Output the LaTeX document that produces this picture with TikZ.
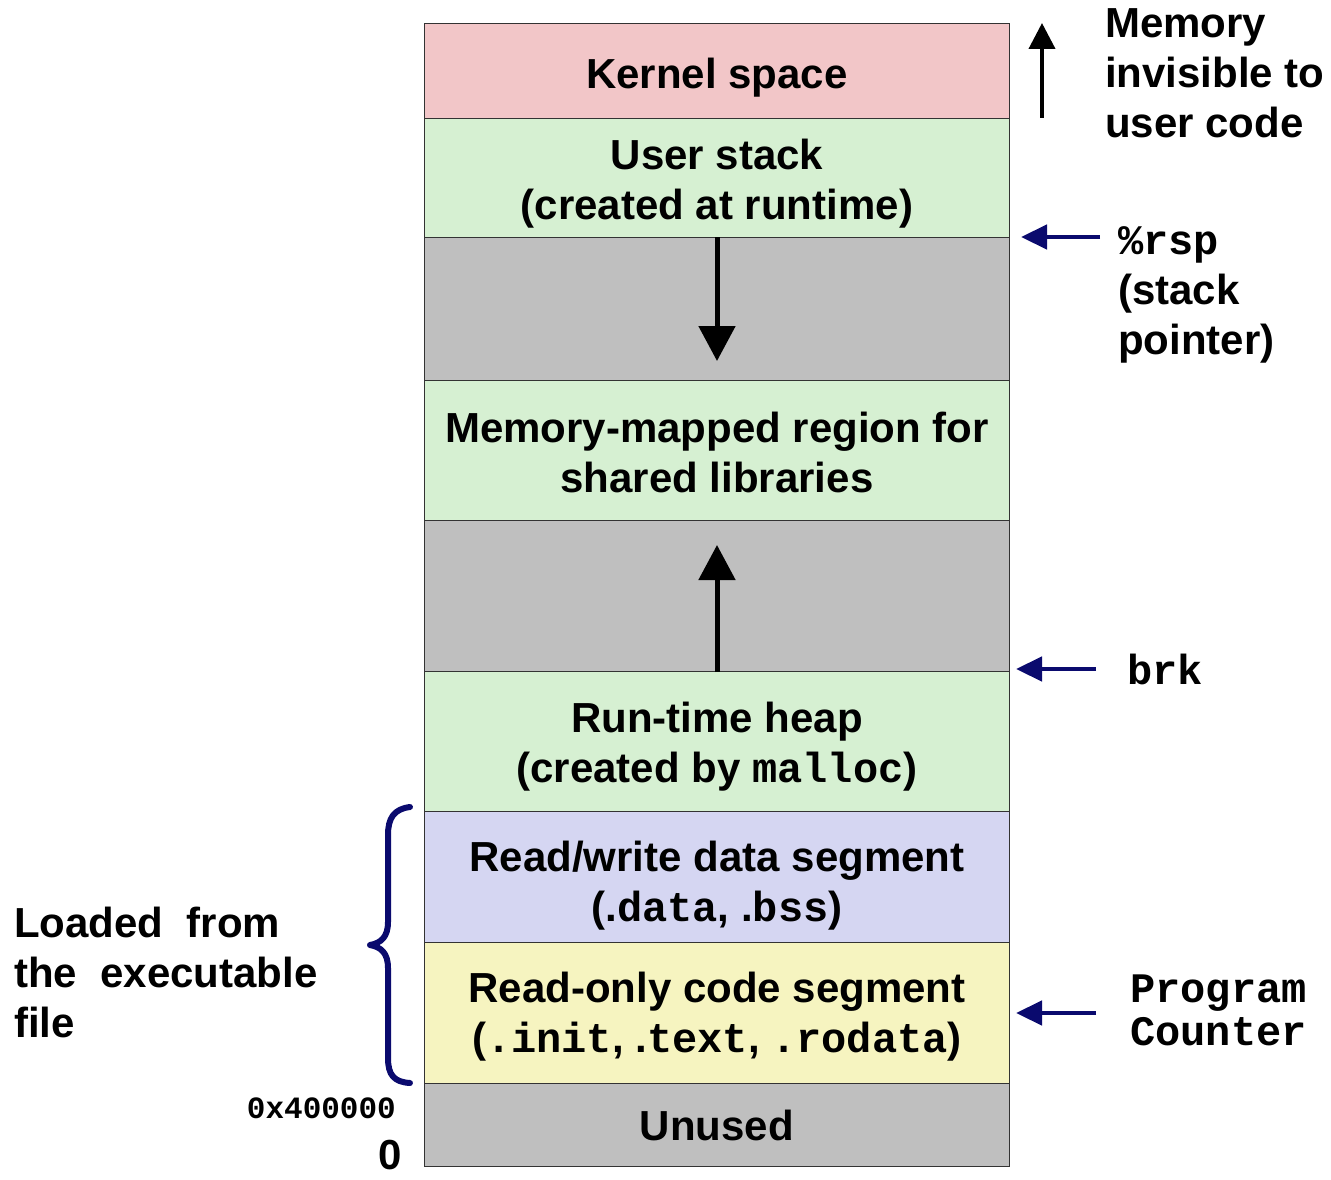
\documentclass[tikz,border=0pt]{standalone}
\usepackage{fontspec}
\setmainfont{Liberation Sans}
\setmonofont{Liberation Mono}
\usetikzlibrary{arrows.meta}
\definecolor{kern}{HTML}{F2C6C8}
\definecolor{grn}{HTML}{D6F0D2}
\definecolor{gry}{HTML}{BFBFBF}
\definecolor{lav}{HTML}{D5D6F2}
\definecolor{ylw}{HTML}{F6F4C0}
\definecolor{navy}{HTML}{0A0A6E}
\newcommand\bigtxt{\fontsize{42}{50}\selectfont\bfseries}
\begin{document}
\begin{tikzpicture}[x=1pt,y=-1pt,
  seg/.style={draw=black!80, line width=1pt, anchor=north west, minimum width=585pt,
    inner sep=0pt},
  segtxt/.style={inner sep=0pt, align=center, font=\bigtxt},
  lbl/.style={inner sep=0pt, align=left, font=\bigtxt},
  bigarr/.style={line width=5pt, -{Triangle[length=35pt,width=36pt]}},
  karr/.style={line width=4pt, -{Triangle[length=26pt,width=26pt]}},
  narr/.style={draw=navy, line width=4.5pt, -{Triangle[length=26pt,width=24pt]}},
  brace/.style={draw=navy, line width=6pt, line cap=round, line join=round}
 ]
\useasboundingbox (0,0) rectangle (1331,1180);
\node[seg, fill=kern, minimum height=95pt] (kernel) at (424,23) {};
\node[seg, fill=grn, minimum height=119pt] (ustack) at (424,118) {};
\node[seg, fill=gry, minimum height=143pt] (gap1) at (424,237) {};
\node[seg, fill=grn, minimum height=140pt] (mmap) at (424,380) {};
\node[seg, fill=gry, minimum height=151pt] (gap2) at (424,520) {};
\node[seg, fill=grn, minimum height=140pt] (heap) at (424,671) {};
\node[seg, fill=lav, minimum height=131pt] (rw) at (424,811) {};
\node[seg, fill=ylw, minimum height=141pt] (ro) at (424,942) {};
\node[seg, fill=gry, minimum height=83pt] (unused) at (424,1083) {};

\node[segtxt] (kernelT) at ([yshift=-7pt]kernel.center) {Kernel space};
\node[segtxt] (ustackT) at ([yshift=-6pt]ustack.center) {User stack\\(created at runtime)};
\node[segtxt] (mmapT) at ([yshift=-2pt]mmap.center) {Memory-mapped region for\\shared libraries};
\node[segtxt] (heapT) at ([yshift=-5pt]heap.center) {Run-time heap\\(created by \texttt{malloc})};
\node[segtxt] (rwT) at ([yshift=-9pt]rw.center) {Read/write data segment\\(.\texttt{data}, .\texttt{bss})};
\node[segtxt] (roT) at ([yshift=-4pt]ro.center) {Read-only code segment\\(\texttt{.init}, .\texttt{text}, \texttt{.rodata})};
\node[segtxt] (unusedT) at ([yshift=0pt]unused.center) {Unused};

\draw[bigarr] (gap1.north) -- ([yshift=20pt]gap1.south);
\draw[bigarr] (gap2.south) -- ([yshift=-25pt]gap2.north);

\coordinate (ka) at (1042,118);
\coordinate (kb) at (1042,23);
\draw[karr] (ka) -- (kb);
\node[lbl, anchor=north west] (invis) at (1105,8) {Memory\\invisible to\\user code};

\node[lbl, anchor=north west] (rsp) at (1118,226) {\texttt{\%rsp}\\(stack\\pointer)};
\coordinate (rspt) at (1100,237);
\coordinate (rsph) at (1021,237);
\draw[narr] (rspt) -- (rsph);

\node[lbl, anchor=west] (brk) at (1127,669) {\texttt{brk}};
\coordinate (brkt) at (1096,669);
\coordinate (brkh) at (1016,669);
\draw[narr] (brkt) -- (brkh);

\node[inner sep=0pt, align=left, font=\fontsize{42}{43}\selectfont\bfseries\ttfamily, anchor=north west] (pc) at (1130,975) {Program\\Counter};
\coordinate (pct) at (1096,1013);
\coordinate (pch) at (1016,1013);
\draw[narr] (pct) -- (pch);

\node[lbl, anchor=north west] (loaded) at (14,907) {Loaded\ \ from\\the\ \ executable\\file};
\draw[brace] (410,807) .. controls (394,809) and (388,818) .. (388,835) -- (388,922)
  .. controls (388,937) and (381,943) .. (370,945)
  .. controls (381,947) and (388,953) .. (388,968) -- (388,1058)
  .. controls (388,1075) and (394,1082) .. (410,1083);

\node[inner sep=0pt, anchor=east, font=\fontsize{31}{36}\selectfont\bfseries\ttfamily] (addr) at (396,1108) {0x400000};
\node[inner sep=0pt, font=\bigtxt, anchor=south] (zero) at (390,1170) {0};
\end{tikzpicture}
\end{document}
